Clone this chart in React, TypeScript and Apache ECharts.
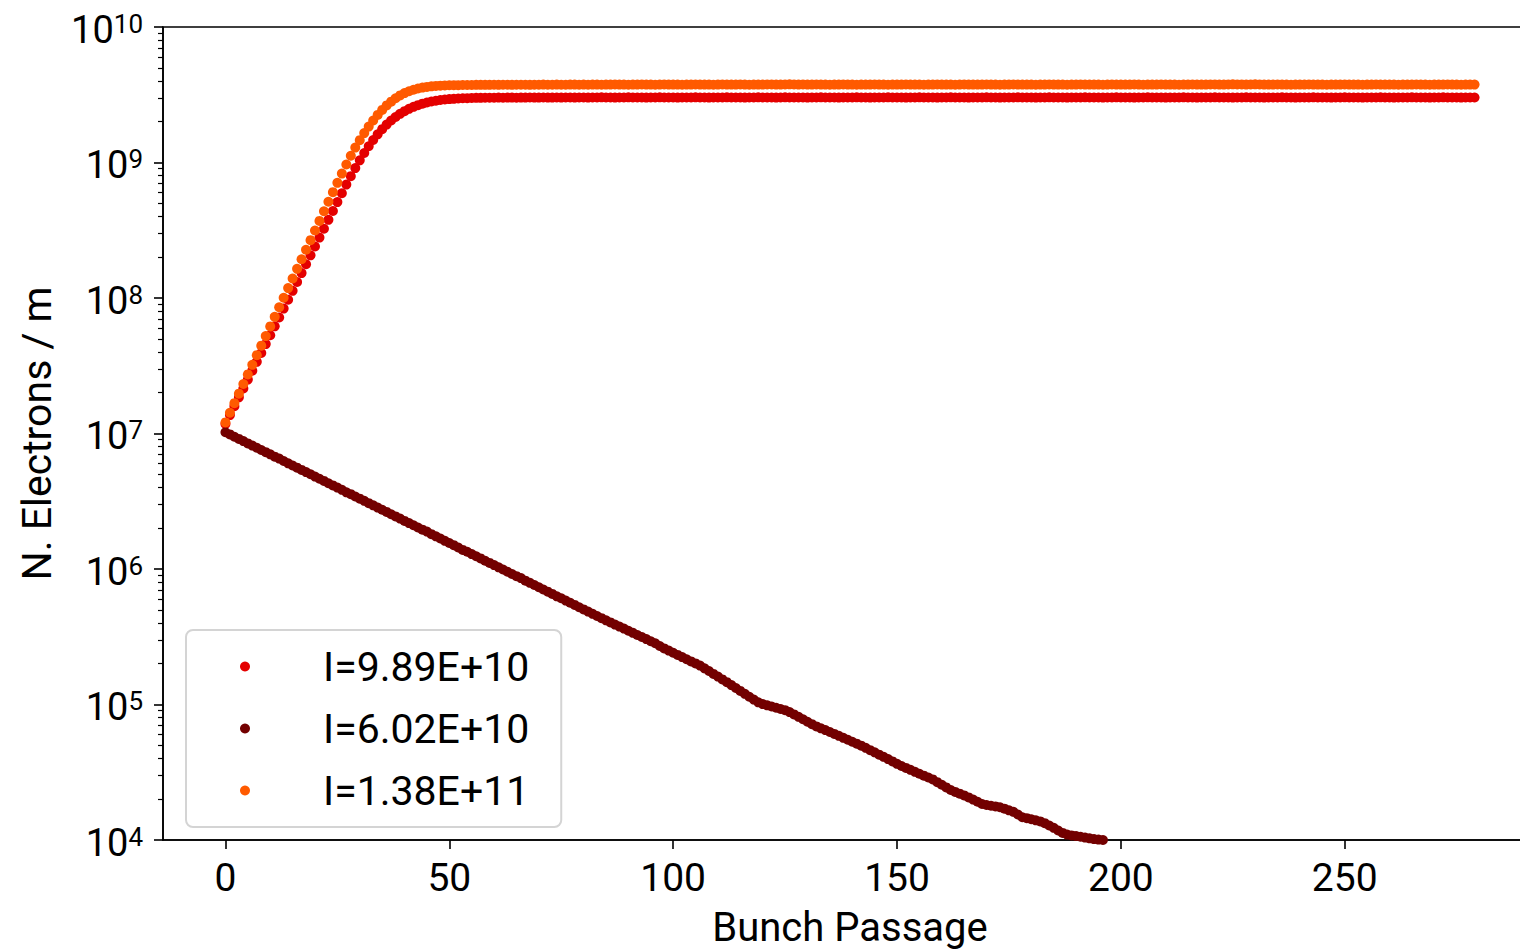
import React, { useEffect, useRef } from "react";
import * as echarts from "echarts";

// log10 of N. Electrons / m, one value per bunch passage (index = passage)
const logI989 = [
  7.070, 7.136, 7.201, 7.267, 7.332, 7.398, 7.463, 7.529, 7.594, 7.660,
  7.725, 7.791, 7.856, 7.922, 7.987, 8.053, 8.118, 8.184, 8.249, 8.315,
  8.380, 8.446, 8.511, 8.577, 8.642, 8.708, 8.773, 8.837, 8.899, 8.959,
  9.016, 9.070, 9.120, 9.166, 9.208, 9.246, 9.280, 9.310, 9.336, 9.359,
  9.379, 9.396, 9.411, 9.423, 9.434, 9.443, 9.450, 9.456, 9.461, 9.465,
  9.468, 9.470, 9.472, 9.474, 9.475, 9.476, 9.477, 9.477, 9.478, 9.478,
  9.478, 9.479, 9.478, 9.479, 9.479, 9.478, 9.479, 9.479, 9.480, 9.479,
  9.479, 9.480, 9.479, 9.479, 9.480, 9.479, 9.480, 9.480, 9.479, 9.480,
  9.480, 9.479, 9.480, 9.480, 9.481, 9.480, 9.480, 9.479, 9.480, 9.480,
  9.481, 9.480, 9.480, 9.480, 9.479, 9.480, 9.480, 9.481, 9.480, 9.480,
  9.480, 9.479, 9.480, 9.480, 9.480, 9.481, 9.480, 9.480, 9.479, 9.480,
  9.480, 9.480, 9.481, 9.480, 9.480, 9.480, 9.479, 9.480, 9.480, 9.481,
  9.480, 9.480, 9.480, 9.479, 9.480, 9.481, 9.480, 9.480, 9.480, 9.480,
  9.479, 9.480, 9.480, 9.481, 9.480, 9.480, 9.480, 9.479, 9.480, 9.480,
  9.480, 9.481, 9.480, 9.480, 9.479, 9.480, 9.480, 9.480, 9.481, 9.480,
  9.480, 9.480, 9.479, 9.480, 9.480, 9.481, 9.480, 9.480, 9.480, 9.479,
  9.480, 9.480, 9.481, 9.480, 9.480, 9.480, 9.479, 9.480, 9.480, 9.480,
  9.481, 9.480, 9.480, 9.479, 9.480, 9.480, 9.480, 9.481, 9.480, 9.480,
  9.480, 9.479, 9.480, 9.480, 9.481, 9.480, 9.480, 9.480, 9.479, 9.480,
  9.480, 9.480, 9.481, 9.480, 9.480, 9.480, 9.479, 9.480, 9.480, 9.481,
  9.480, 9.480, 9.480, 9.479, 9.480, 9.480, 9.481, 9.480, 9.480, 9.480,
  9.479, 9.480, 9.480, 9.480, 9.481, 9.480, 9.480, 9.479, 9.480, 9.480,
  9.480, 9.481, 9.480, 9.480, 9.480, 9.479, 9.480, 9.480, 9.481, 9.480,
  9.480, 9.480, 9.479, 9.480, 9.480, 9.480, 9.481, 9.480, 9.480, 9.479,
  9.480, 9.480, 9.480, 9.481, 9.480, 9.480, 9.480, 9.479, 9.480, 9.480,
  9.481, 9.480, 9.480, 9.480, 9.479, 9.480, 9.480, 9.480, 9.481, 9.480,
  9.480, 9.479, 9.480, 9.480, 9.480, 9.481, 9.480, 9.480, 9.480, 9.479,
  9.480, 9.480, 9.481, 9.480, 9.480, 9.480, 9.479, 9.480, 9.480, 9.480,
];

const logI602 = [
  7.009, 6.993, 6.976, 6.960, 6.944, 6.927, 6.911, 6.895, 6.878, 6.862,
  6.846, 6.829, 6.815, 6.797, 6.780, 6.764, 6.748, 6.731, 6.715, 6.699,
  6.682, 6.666, 6.650, 6.633, 6.617, 6.601, 6.584, 6.566, 6.552, 6.535,
  6.519, 6.503, 6.486, 6.470, 6.453, 6.437, 6.421, 6.404, 6.388, 6.372,
  6.355, 6.339, 6.323, 6.306, 6.290, 6.276, 6.257, 6.241, 6.225, 6.208,
  6.192, 6.176, 6.159, 6.141, 6.127, 6.110, 6.094, 6.078, 6.061, 6.045,
  6.029, 6.012, 5.996, 5.980, 5.963, 5.947, 5.933, 5.914, 5.898, 5.882,
  5.865, 5.849, 5.833, 5.816, 5.798, 5.784, 5.767, 5.751, 5.735, 5.718,
  5.702, 5.686, 5.669, 5.653, 5.637, 5.621, 5.606, 5.590, 5.575, 5.560,
  5.544, 5.529, 5.513, 5.498, 5.483, 5.467, 5.452, 5.432, 5.414, 5.398,
  5.382, 5.366, 5.350, 5.334, 5.318, 5.303, 5.287, 5.267, 5.247, 5.226,
  5.206, 5.185, 5.165, 5.143, 5.122, 5.100, 5.079, 5.057, 5.036, 5.016,
  5.003, 4.994, 4.985, 4.976, 4.967, 4.958, 4.944, 4.927, 4.909, 4.891,
  4.873, 4.855, 4.838, 4.824, 4.811, 4.797, 4.783, 4.769, 4.754, 4.740,
  4.725, 4.711, 4.696, 4.680, 4.663, 4.647, 4.630, 4.614, 4.597, 4.580,
  4.562, 4.546, 4.532, 4.518, 4.503, 4.489, 4.475, 4.461, 4.447, 4.427,
  4.408, 4.388, 4.369, 4.355, 4.342, 4.329, 4.314, 4.298, 4.282, 4.266,
  4.258, 4.253, 4.248, 4.242, 4.231, 4.219, 4.208, 4.188, 4.168, 4.161,
  4.153, 4.145, 4.137, 4.124, 4.107, 4.090, 4.070, 4.052, 4.040, 4.034,
  4.029, 4.024, 4.018, 4.012, 4.007, 4.003, 4.000, 3.996, 3.990, 3.983,
  3.975,
];

const logI138 = [
  7.082, 7.153, 7.224, 7.294, 7.365, 7.436, 7.507, 7.578, 7.648, 7.719,
  7.790, 7.861, 7.932, 8.002, 8.073, 8.144, 8.215, 8.286, 8.356, 8.427,
  8.498, 8.569, 8.640, 8.710, 8.781, 8.850, 8.918, 8.985, 9.050, 9.110,
  9.165, 9.217, 9.265, 9.310, 9.351, 9.388, 9.421, 9.449, 9.474, 9.495,
  9.512, 9.526, 9.537, 9.546, 9.553, 9.558, 9.562, 9.565, 9.567, 9.569,
  9.570, 9.571, 9.571, 9.572, 9.572, 9.572, 9.573, 9.573, 9.573, 9.573,
  9.574, 9.573, 9.574, 9.574, 9.573, 9.574, 9.574, 9.574, 9.573, 9.574,
  9.574, 9.575, 9.574, 9.574, 9.575, 9.574, 9.574, 9.575, 9.575, 9.574,
  9.575, 9.574, 9.575, 9.575, 9.574, 9.575, 9.575, 9.576, 9.575, 9.575,
  9.574, 9.575, 9.575, 9.576, 9.575, 9.575, 9.574, 9.575, 9.576, 9.575,
  9.575, 9.575, 9.574, 9.575, 9.575, 9.576, 9.575, 9.575, 9.575, 9.574,
  9.575, 9.576, 9.575, 9.575, 9.575, 9.576, 9.575, 9.574, 9.575, 9.575,
  9.575, 9.576, 9.576, 9.575, 9.575, 9.576, 9.577, 9.576, 9.575, 9.576,
  9.575, 9.575, 9.576, 9.575, 9.575, 9.574, 9.575, 9.575, 9.576, 9.575,
  9.575, 9.574, 9.575, 9.575, 9.575, 9.576, 9.575, 9.575, 9.574, 9.575,
  9.575, 9.575, 9.576, 9.575, 9.575, 9.575, 9.574, 9.575, 9.575, 9.576,
  9.575, 9.575, 9.575, 9.574, 9.575, 9.576, 9.575, 9.575, 9.575, 9.575,
  9.576, 9.575, 9.575, 9.574, 9.575, 9.575, 9.576, 9.575, 9.575, 9.575,
  9.575, 9.574, 9.575, 9.575, 9.576, 9.575, 9.575, 9.575, 9.574, 9.575,
  9.575, 9.576, 9.575, 9.575, 9.575, 9.575, 9.574, 9.575, 9.576, 9.575,
  9.575, 9.575, 9.575, 9.576, 9.575, 9.574, 9.575, 9.575, 9.575, 9.576,
  9.575, 9.575, 9.575, 9.574, 9.575, 9.575, 9.576, 9.575, 9.575, 9.575,
  9.576, 9.576, 9.575, 9.575, 9.576, 9.577, 9.576, 9.576, 9.575, 9.576,
  9.577, 9.576, 9.575, 9.575, 9.575, 9.576, 9.575, 9.575, 9.574, 9.575,
  9.575, 9.575, 9.576, 9.575, 9.575, 9.575, 9.574, 9.575, 9.575, 9.575,
  9.576, 9.575, 9.575, 9.575, 9.574, 9.575, 9.575, 9.576, 9.575, 9.575,
  9.575, 9.575, 9.574, 9.575, 9.575, 9.575, 9.576, 9.575, 9.575, 9.574,
  9.575, 9.575, 9.575, 9.576, 9.575, 9.575, 9.574, 9.575, 9.575, 9.575,
];

const seriesNames = ["I=9.89E+10", "I=6.02E+10", "I=1.38E+11"];
const seriesColors = ["#e40000", "#730000", "#ff5a00"];
const xTicks = [0, 50, 100, 150, 200, 250];
const yDecades = [1e4, 1e5, 1e6, 1e7, 1e8, 1e9, 1e10];
const minorMultipliers = [2, 3, 4, 5, 6, 7, 8, 9];

const FONT = "Roboto, 'Liberation Sans', sans-serif";

export default function App() {
  const ref = useRef<HTMLDivElement>(null);
  useEffect(() => {
    if (!ref.current) return;
    const chart = echarts.init(ref.current, null, { renderer: "svg" });
    const minorTicks: number[] = [];
    yDecades.slice(0, -1).forEach((d) =>
      minorMultipliers.forEach((m) => minorTicks.push(d * m))
    );
    const toData = (arr: number[]) => arr.map((v, i) => [i, Math.pow(10, v)]);
    const allSeries = [logI989, logI602, logI138];

    chart.setOption({
      animation: false,
      backgroundColor: "#ffffff",
      textStyle: { fontFamily: FONT },
      grid: {
        left: 163,
        top: 27,
        width: 1374,
        height: 819,
        show: true,
        borderColor: "#000",
        borderWidth: 1.6,
        backgroundColor: "transparent",
      },
      legend: {
        orient: "vertical",
        left: 186,
        top: 630,
        padding: [16, 32, 16, 54],
        itemGap: 21,
        itemWidth: 10,
        itemHeight: 10,
        icon: "circle",
        backgroundColor: "rgba(255,255,255,0.8)",
        borderColor: "#d4d4d4",
        borderWidth: 2,
        borderRadius: 7,
        textStyle: {
          fontSize: 41,
          color: "#000",
          fontFamily: FONT,
          lineHeight: 40,
          padding: [0, 0, 0, 68],
        },
        data: seriesNames,
      },
      xAxis: {
        type: "value",
        min: -13.95,
        max: 292.95,
        splitLine: { show: false },
        axisLine: {
          show: true,
          onZero: false,
          lineStyle: { color: "#000", width: 1.6 },
        },
        axisTick: {
          show: true,
          length: 9,
          customValues: xTicks,
          lineStyle: { color: "#000", width: 1.6 },
        },
        axisLabel: {
          customValues: xTicks,
          fontSize: 39,
          color: "#000",
          margin: 18,
          fontFamily: FONT,
        },
        name: "Bunch Passage",
        nameLocation: "middle",
        nameGap: 67,
        nameTextStyle: { fontSize: 40, color: "#000", fontFamily: FONT },
      },
      yAxis: [
        {
          type: "log",
          logBase: 10,
          min: 1e4,
          max: 1e10,
          position: "left",
          splitLine: { show: false },
          axisLine: {
            show: true,
            onZero: false,
            lineStyle: { color: "#000", width: 1.6 },
          },
          axisTick: {
            show: true,
            length: 9,
            customValues: yDecades,
            lineStyle: { color: "#000", width: 1.6 },
          },
          axisLabel: {
            customValues: yDecades,
            margin: 20,
            color: "#000",
            padding: [5, 0, 0, 0],
            formatter: (v: number) =>
              `{b|10}{s|${Math.round(Math.log10(v))}}`,
            rich: {
              b: { fontSize: 38, lineHeight: 38, color: "#000", fontFamily: FONT },
              s: {
                fontSize: 26,
                lineHeight: 26,
                verticalAlign: "top",
                color: "#000",
                fontFamily: FONT,
              },
            },
          },
          name: "N. Electrons / m",
          nameLocation: "middle",
          nameGap: 106,
          nameTextStyle: { fontSize: 41, color: "#000", fontFamily: FONT },
        },
        {
          type: "log",
          logBase: 10,
          min: 1e4,
          max: 1e10,
          position: "left",
          splitLine: { show: false },
          axisLine: { show: false, onZero: false },
          axisLabel: { show: false },
          axisTick: {
            show: true,
            length: 5,
            customValues: minorTicks,
            lineStyle: { color: "#000", width: 1.2 },
          },
        },
      ],
      series: allSeries.map((arr, k) => ({
        type: "scatter",
        name: seriesNames[k],
        data: toData(arr),
        symbol: "circle",
        symbolSize: 10,
        itemStyle: { color: seriesColors[k], opacity: 1 },
        emphasis: { disabled: true },
        clip: true,
      })),
    });
    return () => chart.dispose();
  }, []);
  return (
    <div
      style={{
        position: "absolute",
        left: 0,
        top: 0,
        width: 1520,
        height: 952,
        overflow: "hidden",
      }}
    >
      <div ref={ref} style={{ width: 1545, height: 952 }} />
    </div>
  );
}
